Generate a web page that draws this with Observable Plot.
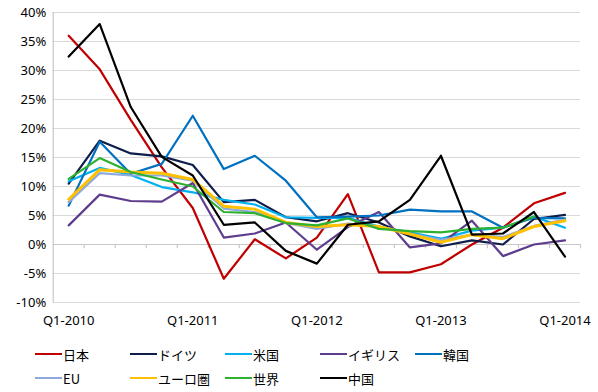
<!DOCTYPE html>
<html>
<head>
<meta charset="utf-8">
<script src="https://cdn.jsdelivr.net/npm/d3@7"></script>
<script src="https://cdn.jsdelivr.net/npm/@observablehq/plot@0.6"></script>
<style>
  body { margin: 0; background: #fff; font-family: "Noto Sans", "Noto Sans CJK JP", sans-serif; }
  #wrap { position: relative; width: 598px; height: 392px; }
  .legend { position: absolute; left: 0; top: 342px; width: 598px; }
  .row { display: flex; height: 24px; align-items: center; padding-left: 35px; }
  .item { width: 95px; display: flex; align-items: center; font-size: 13px; color: #000; font-family: "Noto Sans CJK JP", sans-serif; }
  .sw { width: 27px; height: 0; border-top: 2.5px solid; margin-right: 1px; }
</style>
</head>
<body>
<div id="wrap"></div>
<script>
const quarters = ["Q1-2010","Q2-2010","Q3-2010","Q4-2010","Q1-2011","Q2-2011","Q3-2011","Q4-2011","Q1-2012","Q2-2012","Q3-2012","Q4-2012","Q1-2013","Q2-2013","Q3-2013","Q4-2013","Q1-2014"];
const labelQuarters = ["Q1-2010","Q1-2011","Q1-2012","Q1-2013","Q1-2014"];
const names = ["日本","ドイツ","米国","イギリス","韓国","EU","ユーロ圏","世界","中国"];
const colors = ["#C00000","#0F1D4A","#00B0F0","#5E3C8E","#0070C0","#8EA9DB","#FFC000","#2EB030","#000000"];

const japan   = [36.0, 30.2, 21.5, 13.3, 6.3, -5.9, 0.9, -2.4, 1.2, 8.7, -4.8, -4.8, -3.4, 0.0, 2.9, 7.1, 8.9];
const germany = [10.5, 17.9, 15.7, 15.2, 13.7, 7.3, 7.7, 4.7, 4.0, 5.4, 3.8, 1.4, -0.3, 0.7, 0.0, 4.4, 5.1];
const usa     = [10.9, 13.2, 12.0, 9.9, 9.0, 7.7, 6.9, 4.7, 4.6, 4.6, 3.1, 2.1, 1.0, 2.4, 2.9, 4.8, 2.9];
const uk      = [3.3, 8.6, 7.5, 7.4, 10.6, 1.2, 1.9, 3.8, -0.9, 3.0, 5.6, -0.5, 0.2, 4.1, -2.0, 0.0, 0.7];
const korea   = [6.7, 17.7, 12.2, 13.9, 22.2, 13.0, 15.3, 11.0, 4.7, 4.8, 5.0, 6.0, 5.7, 5.7, 2.9, 4.6, 4.5];
const eu      = [7.3, 12.3, 11.9, 11.9, 11.0, 6.2, 5.6, 3.7, 2.7, 3.6, 3.1, 1.9, 0.8, 1.7, 1.3, 3.2, 4.3];
const euro    = [7.8, 12.9, 12.5, 12.3, 11.2, 6.6, 6.1, 3.8, 3.1, 3.4, 3.1, 1.8, 0.4, 1.7, 1.0, 3.1, 4.1];
const world   = [11.3, 14.9, 12.5, 11.2, 10.0, 5.6, 5.4, 3.7, 3.3, 4.5, 2.7, 2.3, 2.1, 2.7, 2.9, 4.8, null];
const china   = [32.4, 38.0, 23.7, 15.1, 11.9, 3.4, 3.8, -1.1, -3.3, 3.4, 4.0, 7.7, 15.3, 1.7, 1.9, 5.6, -2.1];
const yTicks = [-10, -5, 0, 5, 10, 15, 20, 25, 30, 35, 40];

const seriesValues = [japan, germany, usa, uk, korea, eu, euro, world, china];
const data = [];
names.forEach((n, k) => seriesValues[k].forEach((v, i) => data.push({name: n, q: quarters[i], i, v})));

const boundaries = quarters.map((q, i) => i + 0.5);

const chart = Plot.plot({
  width: 598,
  height: 335,
  marginLeft: 52.7,
  marginRight: 18,
  marginTop: 12,
  marginBottom: 33,
  style: {fontFamily: '"Noto Sans", "Noto Sans CJK JP", sans-serif', fontSize: "13px", color: "#000"},
  x: {type: "linear", domain: [-0.5, quarters.length - 0.5], label: null},
  y: {domain: [-10, 40], label: null},
  color: {domain: names, range: colors},
  marks: [
    Plot.gridY(yTicks, {stroke: "#d9d9d9", strokeOpacity: 1, strokeWidth: 1.2}),
    Plot.ruleX([-0.5], {y1: -10, y2: 40, stroke: "#c8c8c8", strokeWidth: 1.2}),
    Plot.ruleY([0], {stroke: "#c8c8c8", strokeWidth: 1.2}),
    Plot.ruleX(boundaries, {y1: 0, y2: -0.75, stroke: "#c8c8c8", strokeWidth: 1.2}),
    Plot.axisY(yTicks, {tickSize: 0, tickPadding: 7, tickFormat: d => d + "%", fontSize: 13, label: null}),
    Plot.axisX(labelQuarters.map(q => quarters.indexOf(q)), {tickSize: 0, tickPadding: 13, tickFormat: i => quarters[i], fontSize: 13, label: null}),
    Plot.line(data, {x: "i", y: "v", z: "name", stroke: "name", strokeWidth: d => d.name === "ユーロ圏" ? 3 : 2.2, strokeLinejoin: "round"})
  ]
});
const wrap = document.getElementById("wrap");
wrap.appendChild(chart);

const legend = document.createElement("div");
legend.className = "legend";
const rows = [names.slice(0, 5), names.slice(5)];
rows.forEach(r => {
  const row = document.createElement("div");
  row.className = "row";
  r.forEach(n => {
    const it = document.createElement("div");
    it.className = "item";
    const sw = document.createElement("span");
    sw.className = "sw";
    sw.style.borderTopColor = colors[names.indexOf(n)];
    const t = document.createElement("span");
    t.textContent = n;
    it.appendChild(sw); it.appendChild(t);
    row.appendChild(it);
  });
  legend.appendChild(row);
});
wrap.appendChild(legend);
</script>
</body>
</html>
